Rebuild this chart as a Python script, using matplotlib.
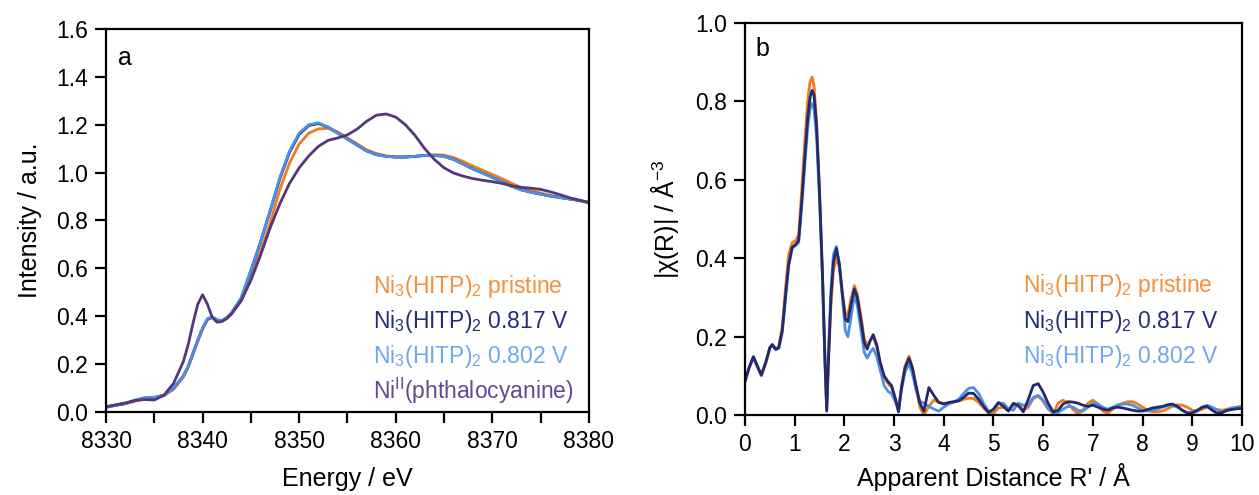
import numpy as np
import matplotlib
matplotlib.use('Agg')
import matplotlib.pyplot as plt
from matplotlib.ticker import MultipleLocator, FormatStrFormatter

plt.rcParams['font.family'] = ['Liberation Sans', 'DejaVu Sans']
plt.rcParams['mathtext.fontset'] = 'custom'
plt.rcParams['mathtext.rm'] = 'Liberation Sans'
plt.rcParams['mathtext.it'] = 'Liberation Sans:italic'
plt.rcParams['mathtext.bf'] = 'Liberation Sans:bold'

# ---- (a) Ni K-edge XANES ----
energy = [8330, 8331, 8332, 8333, 8334, 8335, 8336, 8337, 8338, 8338.5, 8339, 8339.5,
          8340, 8340.5, 8341, 8341.5, 8342, 8342.5, 8343, 8344, 8345, 8346, 8347, 8348,
          8349, 8350, 8351, 8352, 8353, 8354, 8355, 8356, 8357, 8358, 8359, 8360, 8361,
          8362, 8363, 8364, 8365, 8366, 8367, 8368, 8369, 8370, 8371, 8372, 8373, 8374,
          8375, 8376, 8377, 8378, 8379, 8380]

xanes_pristine = [0.02, 0.028, 0.035, 0.045, 0.055, 0.058, 0.068, 0.095, 0.145, 0.185, 0.24,
                  0.295, 0.345, 0.385, 0.396, 0.385, 0.382, 0.393, 0.41, 0.465, 0.565, 0.67,
                  0.79, 0.93, 1.04, 1.12, 1.165, 1.183, 1.185, 1.17, 1.145, 1.12, 1.095, 1.08,
                  1.07, 1.066, 1.066, 1.068, 1.072, 1.075, 1.073, 1.063, 1.046, 1.027, 1.01,
                  0.992, 0.975, 0.955, 0.938, 0.925, 0.915, 0.905, 0.897, 0.89, 0.883, 0.875]

xanes_0817 = [0.02, 0.028, 0.035, 0.048, 0.058, 0.06, 0.07, 0.1, 0.15, 0.19, 0.245,
              0.3, 0.35, 0.388, 0.396, 0.383, 0.38, 0.393, 0.413, 0.475, 0.59, 0.71,
              0.84, 0.975, 1.085, 1.16, 1.197, 1.205, 1.19, 1.165, 1.14, 1.115, 1.09, 1.075,
              1.068, 1.065, 1.065, 1.068, 1.072, 1.072, 1.068, 1.055, 1.035, 1.015, 0.998,
              0.98, 0.962, 0.943, 0.928, 0.918, 0.91, 0.902, 0.896, 0.89, 0.884, 0.875]

xanes_0802 = [0.02, 0.028, 0.035, 0.05, 0.06, 0.062, 0.07, 0.1, 0.15, 0.19, 0.245,
              0.3, 0.35, 0.39, 0.398, 0.385, 0.382, 0.395, 0.415, 0.478, 0.592, 0.712,
              0.842, 0.98, 1.09, 1.165, 1.2, 1.208, 1.19, 1.165, 1.14, 1.115, 1.09, 1.075,
              1.068, 1.065, 1.065, 1.068, 1.072, 1.072, 1.068, 1.055, 1.035, 1.015, 0.998,
              0.98, 0.962, 0.943, 0.928, 0.918, 0.91, 0.902, 0.896, 0.89, 0.884, 0.875]

xanes_nipc = [0.022, 0.03, 0.038, 0.048, 0.052, 0.05, 0.07, 0.12, 0.21, 0.28, 0.37,
              0.45, 0.49, 0.45, 0.395, 0.375, 0.378, 0.39, 0.41, 0.465, 0.55, 0.655,
              0.77, 0.87, 0.955, 1.02, 1.07, 1.11, 1.135, 1.145, 1.158, 1.182, 1.215, 1.24,
              1.245, 1.232, 1.2, 1.155, 1.1, 1.055, 1.02, 0.998, 0.985, 0.975, 0.968,
              0.962, 0.955, 0.945, 0.938, 0.935, 0.93, 0.92, 0.908, 0.895, 0.885, 0.875]

# ---- (b) Fourier-transformed EXAFS ----
r_dist = [0.00, 0.08, 0.17, 0.25, 0.33, 0.42, 0.50, 0.55, 0.62, 0.68, 0.75, 0.82, 0.88,
          0.95, 1.02, 1.08, 1.14, 1.20, 1.26, 1.31, 1.35, 1.39, 1.44, 1.50, 1.56, 1.61,
          1.645, 1.68, 1.73, 1.78, 1.84, 1.90, 1.96, 2.02, 2.07, 2.13, 2.20, 2.26, 2.33,
          2.40, 2.46, 2.52, 2.58, 2.65, 2.72, 2.80, 2.88, 2.95, 3.02, 3.09, 3.15, 3.22,
          3.30, 3.37, 3.45, 3.52,
          3.6, 3.7, 3.8, 3.9, 4.0, 4.1, 4.2, 4.3, 4.4, 4.5, 4.6, 4.7, 4.8, 4.9, 5.0,
          5.1, 5.2, 5.3, 5.4, 5.5, 5.6, 5.7, 5.8, 5.9, 6.0, 6.1, 6.2, 6.3, 6.4, 6.5,
          6.6, 6.7, 6.8, 6.9, 7.0, 7.1, 7.2, 7.3, 7.4, 7.5, 7.6, 7.7, 7.8, 7.9, 8.0,
          8.1, 8.2, 8.3, 8.4, 8.5, 8.6, 8.7, 8.8, 8.9, 9.0, 9.1, 9.2, 9.3, 9.4, 9.5,
          9.6, 9.7, 9.8, 9.9, 10.0]

ft_pristine = [0.085, 0.118, 0.145, 0.122, 0.10, 0.132, 0.17, 0.178, 0.168, 0.175,
               0.225, 0.33, 0.41, 0.44, 0.445, 0.46, 0.57, 0.69, 0.80, 0.85,
               0.862, 0.84, 0.75, 0.57, 0.35, 0.13, 0.015, 0.13, 0.28, 0.37,
               0.40, 0.375, 0.31, 0.258, 0.255, 0.295, 0.33, 0.31, 0.255, 0.195,
               0.178, 0.19, 0.198, 0.175, 0.13, 0.095, 0.08, 0.07, 0.04, 0.01,
               0.075, 0.125, 0.15, 0.12, 0.065, 0.02,
               0.0, 0.022, 0.038, 0.032, 0.03, 0.03, 0.033, 0.036, 0.04, 0.043,
               0.042, 0.032, 0.018, 0.006, 0.004, 0.018, 0.02, 0.012, 0.025, 0.028,
               0.012, 0.02, 0.042, 0.048, 0.035, 0.015, 0.004, 0.03, 0.038, 0.03,
               0.014, 0.003, 0.012, 0.03, 0.038, 0.028, 0.01, 0.004, 0.015, 0.025,
               0.03, 0.034, 0.034, 0.028, 0.02, 0.012, 0.008, 0.008, 0.01, 0.016,
               0.022, 0.026, 0.025, 0.02, 0.012, 0.01, 0.015, 0.02, 0.018, 0.014,
               0.012, 0.015, 0.018, 0.02, 0.021]

ft_0817 = [0.085, 0.12, 0.149, 0.125, 0.102, 0.135, 0.172, 0.180, 0.168, 0.172,
           0.215, 0.31, 0.385, 0.428, 0.435, 0.445, 0.54, 0.65, 0.755, 0.81,
           0.828, 0.815, 0.74, 0.57, 0.36, 0.14, 0.01, 0.14, 0.30, 0.39,
           0.425, 0.385, 0.31, 0.245, 0.238, 0.28, 0.322, 0.30, 0.245, 0.185,
           0.168, 0.19, 0.205, 0.18, 0.135, 0.10, 0.085, 0.075, 0.045, 0.008,
           0.07, 0.12, 0.145, 0.12, 0.07, 0.03,
           0.01, 0.07, 0.05, 0.032, 0.028, 0.032, 0.034, 0.036, 0.045, 0.056,
           0.055, 0.04, 0.022, 0.006, 0.015, 0.032, 0.022, 0.01, 0.03, 0.024,
           0.008, 0.04, 0.075, 0.08, 0.058, 0.03, 0.008, 0.012, 0.028, 0.034,
           0.033, 0.03, 0.025, 0.022, 0.025, 0.02, 0.015, 0.012, 0.018, 0.02,
           0.018, 0.015, 0.012, 0.01, 0.01, 0.014, 0.018, 0.02, 0.022, 0.026,
           0.028, 0.022, 0.012, 0.005, 0.006, 0.012, 0.02, 0.022, 0.012, 0.004,
           0.006, 0.012, 0.014, 0.016, 0.017]

ft_0802 = [0.085, 0.12, 0.148, 0.125, 0.102, 0.135, 0.17, 0.178, 0.166, 0.17,
           0.21, 0.30, 0.38, 0.425, 0.432, 0.44, 0.53, 0.63, 0.73, 0.78,
           0.795, 0.78, 0.71, 0.55, 0.35, 0.14, 0.02, 0.16, 0.32, 0.41,
           0.43, 0.38, 0.30, 0.215, 0.20, 0.245, 0.305, 0.28, 0.22, 0.16,
           0.145, 0.16, 0.17, 0.15, 0.115, 0.075, 0.06, 0.055, 0.035, 0.015,
           0.065, 0.11, 0.13, 0.105, 0.06, 0.035,
           0.03, 0.022, 0.015, 0.01, 0.02, 0.028, 0.033, 0.04, 0.055, 0.068,
           0.07, 0.055, 0.03, 0.01, 0.012, 0.03, 0.03, 0.015, 0.012, 0.03,
           0.025, 0.025, 0.045, 0.05, 0.038, 0.018, 0.005, 0.006, 0.015, 0.022,
           0.02, 0.012, 0.01, 0.02, 0.03, 0.028, 0.02, 0.015, 0.02, 0.026,
           0.028, 0.028, 0.025, 0.018, 0.012, 0.01, 0.012, 0.015, 0.02, 0.024,
           0.025, 0.02, 0.012, 0.006, 0.004, 0.01, 0.02, 0.025, 0.02, 0.012,
           0.008, 0.012, 0.018, 0.02, 0.022]

c_orange = '#f27a1f'
c_navy = '#222a6c'
c_blue = '#4b8fe6'
c_purple = '#553877'

fig = plt.figure(figsize=(12.59, 4.95), dpi=100)
pos_a = [0.0842, 0.1677, 0.3836, 0.7737]
pos_b = [0.5917, 0.1616, 0.3948, 0.7919]
ax1 = fig.add_axes(pos_a)
ax2 = fig.add_axes(pos_b)

lw = 2.0
ax1.plot(energy, xanes_pristine, color=c_orange, lw=lw)
ax1.plot(energy, xanes_0817, color=c_navy, lw=lw)
ax1.plot(energy, xanes_0802, color=c_blue, lw=lw)
ax1.plot(energy, xanes_nipc, color=c_purple, lw=lw)

ax2.plot(r_dist, ft_pristine, color=c_orange, lw=lw)
ax2.plot(r_dist, ft_0802, color=c_blue, lw=lw)
ax2.plot(r_dist, ft_0817, color=c_navy, lw=lw)

fs_tick = 16.5
fs_lab = 18
fs_leg = 16.5

ax1.set_xlim(8330, 8380)
ax1.set_ylim(0, 1.6)
ax1.xaxis.set_major_locator(MultipleLocator(10))
ax1.xaxis.set_minor_locator(MultipleLocator(5))
ax1.yaxis.set_major_locator(MultipleLocator(0.2))
ax1.yaxis.set_major_formatter(FormatStrFormatter('%.1f'))
ax1.set_xlabel('Energy / eV', fontsize=fs_lab)
ax1.set_ylabel('Intensity / a.u.', fontsize=fs_lab, labelpad=10)

ax2.set_xlim(0, 10)
ax2.set_ylim(0, 1.0)
ax2.xaxis.set_major_locator(MultipleLocator(1))
ax2.yaxis.set_major_locator(MultipleLocator(0.2))
ax2.yaxis.set_major_formatter(FormatStrFormatter('%.1f'))
ax2.set_xlabel("Apparent Distance R' / Å", fontsize=fs_lab)
ax2.set_ylabel('|χ(R)| / Å$^{-3}$', fontsize=fs_lab, labelpad=10)

for ax, pos in ((ax1, pos_a), (ax2, pos_b)):
    for s in ax.spines.values():
        s.set_linewidth(1.6)
    ax.tick_params(which='both', direction='out', length=8, width=1.6,
                   labelsize=fs_tick, pad=5)
    # both x labels share one baseline near the bottom edge
    ax.xaxis.set_label_coords(pos[0] + pos[2] / 2, 0.008, transform=fig.transFigure)
    ax.xaxis.label.set_va('bottom')

ax1.text(0.025, 0.955, 'a', transform=ax1.transAxes, fontsize=18, va='top')
ax2.text(0.022, 0.965, 'b', transform=ax2.transAxes, fontsize=18, va='top')

# inline legends
leg_a = [(r'Ni$_3$(HITP)$_2$ pristine', '#f5903a'),
         (r'Ni$_3$(HITP)$_2$ 0.817 V', '#262d78'),
         (r'Ni$_3$(HITP)$_2$ 0.802 V', '#6fa8ef'),
         (r'Ni$^{\mathrm{II}}$(phthalocyanine)', '#674791')]
for i, (txt, col) in enumerate(leg_a):
    ax1.text(0.553, 0.327 - i * 0.091, txt, color=col, fontsize=fs_leg,
             transform=ax1.transAxes, va='center', ha='left')

for i, (txt, col) in enumerate(leg_a[:3]):
    ax2.text(0.559, 0.33 - i * 0.091, txt, color=col, fontsize=fs_leg,
             transform=ax2.transAxes, va='center', ha='left')

fig.savefig('out.png', dpi=100)
